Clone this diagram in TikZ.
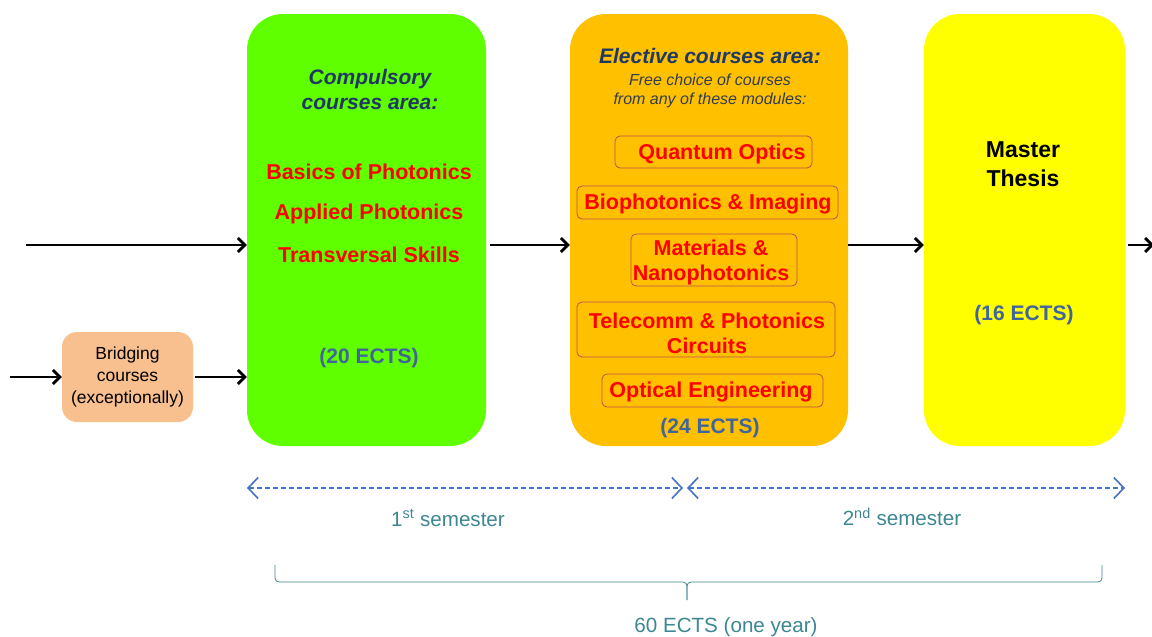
\documentclass[tikz,border=0pt]{standalone}
\usepackage{fontspec}
\setmainfont{Liberation Sans}
\usetikzlibrary{arrows.meta}
\definecolor{cgreen}{RGB}{95,255,0}
\definecolor{corange}{RGB}{255,192,0}
\definecolor{cyellow}{RGB}{255,255,0}
\definecolor{cpeach}{RGB}{248,191,143}
\definecolor{cnavy}{RGB}{31,56,100}
\definecolor{cslate}{RGB}{50,60,80}
\definecolor{cects}{RGB}{64,100,156}
\definecolor{cdash}{RGB}{68,114,196}
\definecolor{cteal}{RGB}{60,135,145}
\definecolor{cmodb}{RGB}{192,80,77}
\definecolor{cred}{RGB}{255,0,0}
\tikzset{
  area/.style={draw=none, rounded corners=36pt, minimum width=#1, minimum height=432pt, inner sep=0pt},
  head/.style={text=cnavy, font=\fontsize{21}{25}\selectfont\bfseries\itshape, align=center, inner sep=0pt},
  sub/.style={text=cslate, font=\fontsize{16}{19}\selectfont\itshape, align=center, inner sep=0pt},
  item/.style={text=cred, font=\fontsize{21.5}{25}\selectfont\bfseries, align=center, inner sep=0pt},
  ects/.style={text=cects, font=\fontsize{21}{25}\selectfont\bfseries, inner sep=0pt},
  modbox/.style={draw=cmodb, line width=0.8pt, rounded corners=5pt, minimum width=#1, inner sep=0pt},
  arr/.style={draw=black, line width=2.2pt, -{Straight Barb[length=7pt,width=14pt,line width=2.8pt]}},
  semarr/.style={draw=cdash, line width=1.6pt, dash pattern=on 5pt off 3pt,
     {Straight Barb[length=10pt,width=21pt,line width=1.6pt]}-{Straight Barb[length=10pt,width=21pt,line width=1.6pt]}},
  teal/.style={text=cteal, font=\fontsize{20.6}{24}\selectfont, inner sep=0pt},
}
\begin{document}
\begin{tikzpicture}[x=1pt,y=-1pt]
\useasboundingbox (0,0) rectangle (1152,637);
% main areas
\node[area=239pt, fill=cgreen] (green) at (366.5,230) {};
\node[area=278pt, fill=corange] (orange) at (709,230) {};
\node[area=201pt, fill=cyellow] (yellow) at (1024.5,230) {};
\node[fill=cpeach, rounded corners=15pt, minimum width=131pt, minimum height=90pt, inner sep=0pt] (bridge) at (127.5,377) {};
% bridging text
\node[font=\fontsize{17.5}{22}\selectfont, align=center, inner sep=0pt] (btext) at (127.5,377) {Bridging\\courses\\(exceptionally)};
% compulsory
\node[head] (chead) at (370,89) {Compulsory\\courses area:};
\node[item] (c1) at (369,172) {Basics of Photonics};
\node[item] (c2) at (369,214) {Applied Photonics};
\node[item] (c3) at (369,255) {Transversal Skills};
\node[ects] (cects) at (369,358) {(20 ECTS)};
% elective
\node[head] (ehead) at (710,55.5) {Elective courses area:};
\node[sub] (esub) at (710,91) {Free choice of courses\\from any of these modules:};
\node[modbox=197pt, minimum height=32pt] (m1) at (713.5,152) {};
\node[item] at (722,153.5) (m1t) {Quantum Optics};
\node[modbox=261pt, minimum height=33pt] (m2) at (707.5,202.5) {};
\node[item] at (708,204) (m2t) {Biophotonics \& Imaging};
\node[modbox=166pt, minimum height=52pt] (m3) at (714,260) {};
\node[item] at (711,262.5) (m3t) {Materials \&\\Nanophotonics};
\node[modbox=258pt, minimum height=55pt] (m4) at (706,329.5) {};
\node[item] at (707,333.5) (m4t) {Telecomm \& Photonics\\Circuits};
\node[modbox=221pt, minimum height=33pt] (m5) at (712.5,390.5) {};
\node[item] at (711,392) (m5t) {Optical Engineering};
\node[ects] (eects) at (710,428) {(24 ECTS)};
% thesis
\node[text=black, font=\fontsize{23}{29}\selectfont\bfseries, align=center, inner sep=0pt] (thead) at (1023,164) {Master\\Thesis};
\node[ects] (tects) at (1024,315) {(16 ECTS)};
% arrows
\coordinate (in1) at (26,245);
\coordinate (in2) at (10,377);
\coordinate (out1) at (1152,245);
\draw[arr] (in1) -- (green.west |- in1);
\draw[arr] (in2) -- (bridge.west |- in2);
\draw[arr] ([xshift=2pt]bridge.east) -- (green.west |- bridge.east);
\draw[arr] ([xshift=4pt]green.east |- in1) -- (orange.west |- in1);
\draw[arr] (orange.east |- in1) -- (yellow.west |- in1);
\draw[arr] ([xshift=3pt]yellow.east |- in1) -- ([xshift=2pt]out1);
% semesters
\coordinate (s0) at (247,488);
\coordinate (s1) at (683,488);
\coordinate (s2) at (687,488);
\coordinate (s3) at (1125,488);
\draw[semarr] (s0) -- (s1);
\draw[semarr] (s2) -- (s3);
\node[teal] (sem1) at (448,518) {1\textsuperscript{st} semester};
\node[teal] (sem2) at (902,517) {2\textsuperscript{nd} semester};
% brace
\coordinate (bl) at (275,565);
\coordinate (br) at (1102,565);
\coordinate (bm) at (687,600);
\draw[cteal, line width=0.8pt, rounded corners=4pt] (bl) -- (275,582) -- (687,582) -- (bm);
\draw[cteal, line width=0.8pt, rounded corners=4pt] (bm) -- (687,582) -- (1102,582) -- (br);
\node[teal] (total) at (726,627) {60 ECTS (one year)};
\end{tikzpicture}
\end{document}
